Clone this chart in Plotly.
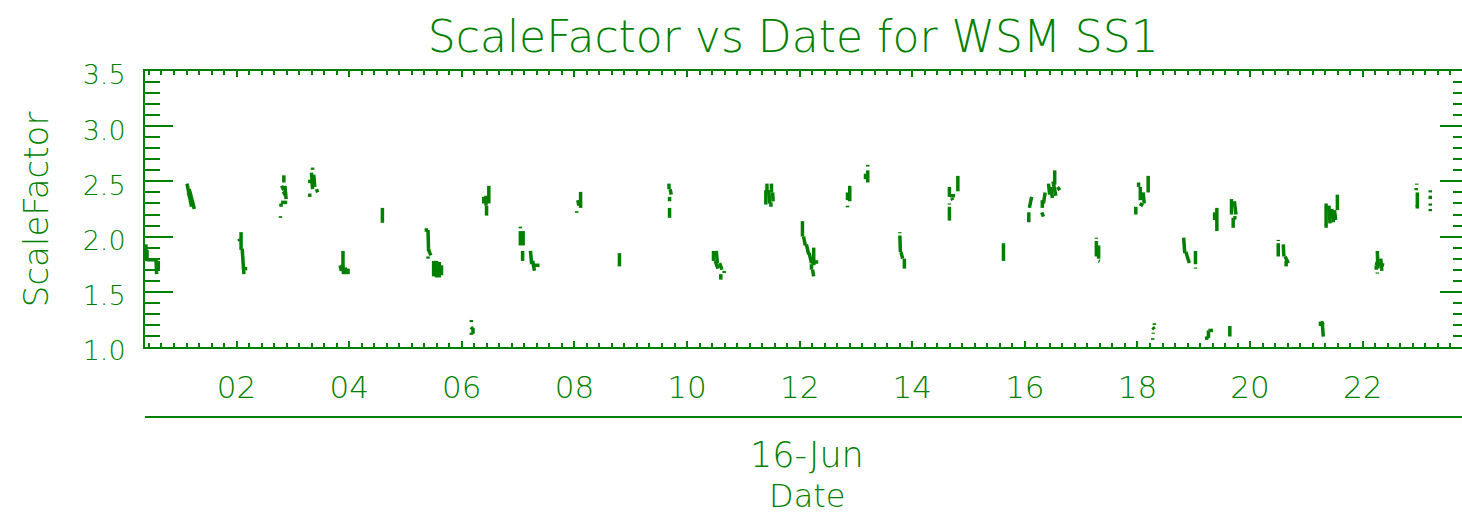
import pandas as pd
import plotly.graph_objects as go

DAY = pd.Timestamp("2009-06-16")
GREEN = "#007f00"
FONT = "DejaVu Sans"

# Each streak of samples: start (hour, value) -> end (hour, value), hours of 16-Jun
h_start = [0.39, 0.41, 0.40, 0.57, 0.61,
           1.12, 1.16, 1.14,
           2.08, 2.04, 2.10, 2.13,
           2.84, 2.80, 2.86, 2.83, 2.79, 2.79, 2.78,
           3.35, 3.33, 3.37, 3.27, 3.30, 3.42,
           4.59,
           3.89, 3.84, 3.88, 3.93, 3.98,
           5.34, 5.40, 5.41, 5.40,
           5.50, 5.55, 5.60, 5.64,
           6.17, 6.16, 6.20, 6.17,
           6.48, 6.39, 6.43, 6.44,
           7.04, 7.04, 7.09, 7.08, 7.22, 7.26, 7.28,
           8.11, 8.06, 8.04,
           8.80,
           9.68, 9.70, 9.69, 9.69,
           10.47, 10.52, 10.50, 10.58, 10.66, 10.60,
           11.42, 11.50, 11.40, 11.45, 11.52, 11.49,
           12.05, 12.07, 12.12, 12.17, 12.25, 12.20, 12.21, 12.23,
           12.89, 12.85, 12.85,
           13.21, 13.21, 13.17,
           13.78, 13.78, 13.80, 13.86,
           14.81, 14.66, 14.67, 14.70, 14.66, 14.66,
           15.62,
           16.12, 16.07, 16.53, 16.50, 16.42, 16.46, 16.58, 16.36, 16.31, 16.30,
           17.27, 17.27, 17.31, 17.31,
           18.19, 18.02, 18.05, 18.10, 18.04, 17.97,
           18.82, 18.86, 19.03, 19.03,
           19.41, 19.37,
           19.67, 19.72, 19.70, 19.70,
           20.50, 20.50, 20.59, 20.62, 20.64,
           21.55, 21.35, 21.40, 21.45, 21.50,
           22.26, 22.22, 22.32, 22.24, 22.26,
           22.96, 22.95, 22.97, 22.94, 23.20, 23.20, 23.20, 23.20,
           18.30, 18.27, 18.28, 18.27,
           19.26, 19.26, 19.20,
           19.64,
           21.26, 21.28, 21.25]
v_start = [1.93, 1.88, 1.79, 1.80, 1.78,
           2.48, 2.43, 2.40,
           2.04, 1.98, 1.89, 1.71,
           2.555, 2.46, 2.46, 2.41, 2.31, 2.30, 2.185,
           2.625, 2.58, 2.56, 2.50, 2.39, 2.43,
           2.26,
           1.87, 1.74, 1.75, 1.72, 1.71,
           2.06, 2.06, 1.88, 1.82,
           1.78, 1.78, 1.77, 1.74,
           1.245, 1.18, 1.17, 1.13,
           2.46, 2.36, 2.37, 2.28,
           2.09, 2.05, 2.05, 1.87, 1.87, 1.78, 1.74,
           2.405, 2.33, 2.23,
           1.85,
           2.48, 2.43, 2.36, 2.26,
           1.87, 1.87, 1.78, 1.76, 1.69, 1.66,
           2.48, 2.48, 2.42, 2.42, 2.40, 2.31,
           2.14, 2.00, 1.93, 1.85, 1.90, 1.77, 1.75, 1.70,
           2.46, 2.40, 2.28,
           2.65, 2.60, 2.57,
           2.04, 2.01, 1.86, 1.80,
           2.55, 2.45, 2.37, 2.35, 2.30, 2.27,
           1.94,
           2.36, 2.22, 2.60, 2.50, 2.48, 2.45, 2.45, 2.40, 2.33, 2.22,
           1.99, 1.96, 1.92, 1.78,
           2.55, 2.49, 2.45, 2.40, 2.30, 2.27,
           1.99, 1.86, 1.87, 1.72,
           2.26, 2.22,
           2.34, 2.32, 2.17, 2.17,
           1.97, 1.94, 1.93, 1.82, 1.78,
           2.38, 2.30, 2.28, 2.25, 2.24,
           1.87, 1.76, 1.80, 1.74, 1.675,
           2.48, 2.44, 2.40, 2.27, 2.42, 2.37, 2.30, 2.25,
           1.215, 1.18, 1.13, 1.08,
           1.15, 1.15, 1.08,
           1.19,
           1.23, 1.23, 1.23]
h_end = [0.39, 0.41, 0.56, 0.58, 0.61,
         1.20, 1.25, 1.22,
         2.08, 2.06, 2.13, 2.19,
         2.84, 2.84, 2.88, 2.87, 2.90, 2.79, 2.78,
         3.35, 3.35, 3.39, 3.41, 3.30, 3.44,
         4.59,
         3.89, 3.86, 3.90, 3.95, 3.98,
         5.40, 5.41, 5.45, 5.40,
         5.50, 5.55, 5.60, 5.64,
         6.17, 6.20, 6.20, 6.17,
         6.48, 6.39, 6.43, 6.44,
         7.04, 7.04, 7.09, 7.08, 7.24, 7.29, 7.38,
         8.11, 8.08, 8.04,
         8.80,
         9.68, 9.72, 9.69, 9.69,
         10.47, 10.54, 10.55, 10.62, 10.66, 10.60,
         11.42, 11.50, 11.40, 11.47, 11.53, 11.49,
         12.05, 12.10, 12.16, 12.21, 12.25, 12.33, 12.21, 12.25,
         12.89, 12.85, 12.85,
         13.21, 13.21, 13.17,
         13.78, 13.79, 13.83, 13.86,
         14.81, 14.66, 14.76, 14.72, 14.66, 14.66,
         15.62,
         16.08, 16.07, 16.53, 16.55, 16.44, 16.49, 16.62, 16.33, 16.31, 16.33,
         17.27, 17.27, 17.31, 17.33,
         18.19, 18.02, 18.05, 18.12, 18.10, 17.97,
         18.84, 18.92, 19.03, 19.03,
         19.41, 19.37,
         19.67, 19.75, 19.76, 19.70,
         20.50, 20.50, 20.60, 20.68, 20.64,
         21.55, 21.35, 21.42, 21.48, 21.52,
         22.27, 22.38, 22.34, 22.24, 22.26,
         22.96, 22.95, 22.97, 23.00, 23.20, 23.20, 23.20, 23.20,
         18.30, 18.30, 18.28, 18.27,
         19.34, 19.26, 19.26,
         19.64,
         21.30, 21.30, 21.25]
v_end = [1.78, 1.80, 1.79, 1.66, 1.70,
         2.27, 2.25, 2.30,
         1.88, 1.96, 1.66, 1.71,
         2.49, 2.42, 2.34, 2.37, 2.31, 2.27, 2.17,
         2.605, 2.43, 2.45, 2.50, 2.36, 2.40,
         2.125,
         1.72, 1.69, 1.66, 1.66, 1.66,
         2.06, 1.87, 1.83, 1.80,
         1.64, 1.63, 1.63, 1.65,
         1.225, 1.16, 1.12, 1.11,
         2.30, 2.30, 2.28, 2.19,
         2.075, 1.92, 1.92, 1.78, 1.75, 1.69, 1.74,
         2.26, 2.28, 2.215,
         1.73,
         2.43, 2.38, 2.32, 2.17,
         1.78, 1.76, 1.71, 1.70, 1.67, 1.61,
         2.40, 2.40, 2.29, 2.30, 2.32, 2.27,
         2.00, 1.92, 1.84, 1.76, 1.74, 1.77, 1.70, 1.64,
         2.32, 2.33, 2.265,
         2.635, 2.49, 2.52,
         2.03, 1.86, 1.80, 1.71,
         2.41, 2.36, 2.37, 2.33, 2.29, 2.145,
         1.78,
         2.26, 2.13, 2.47, 2.37, 2.38, 2.35, 2.42, 2.30, 2.26, 2.18,
         1.98, 1.82, 1.80, 1.775,
         2.40, 2.45, 2.33, 2.30, 2.28, 2.20,
         1.85, 1.76, 1.75, 1.71,
         2.05, 2.15,
         2.20, 2.20, 2.17, 2.08,
         1.96, 1.82, 1.82, 1.76, 1.73,
         2.24, 2.08, 2.12, 2.13, 2.15,
         1.71, 1.74, 1.69, 1.70, 1.665,
         2.47, 2.42, 2.27, 2.27, 2.40, 2.34, 2.28, 2.23,
         1.20, 1.16, 1.12, 1.065,
         1.15, 1.08, 1.08,
         1.095,
         1.20, 1.095, 1.19]

x_range_hours = [0.374, 23.87]
y_range = [1.0, 3.5]
x_tick_hours = [2, 4, 6, 8, 10, 12, 14, 16, 18, 20, 22]
x_tick_labels = ["02", "04", "06", "08", "10", "12", "14", "16", "18", "20", "22"]
y_tick_vals = [1.0, 1.5, 2.0, 2.5, 3.0, 3.5]
y_tick_labels = ["1.0", "1.5", "2.0", "2.5", "3.0", "3.5"]


def to_time(h):
    return DAY + pd.Timedelta(hours=h)


xs, ys = [], []
for h0, v0, h1, v1 in zip(h_start, v_start, h_end, v_end):
    xs += [to_time(h0), to_time(h1), None]
    ys += [v0, v1, None]

fig = go.Figure()
fig.add_trace(go.Scatter(x=xs, y=ys, mode="lines",
                         line=dict(color=GREEN, width=3.5),
                         connectgaps=False, hoverinfo="skip",
                         showlegend=False))

fig.update_layout(
    width=1480, height=515,
    margin=dict(l=145, r=10, t=71, b=168),
    paper_bgcolor="white", plot_bgcolor="white",
    font=dict(family=FONT, color=GREEN),
    title=dict(text="ScaleFactor vs Date for WSM SS1",
               font=dict(family=FONT, size=44, color=GREEN, weight=200),
               xref="paper", x=0.49, xanchor="center",
               yref="container", y=1 - 37 / 515, yanchor="middle"),
)

fig.update_xaxes(
    type="date",
    range=[to_time(x_range_hours[0]), to_time(x_range_hours[1])],
    tickmode="array",
    tickvals=[to_time(h) for h in x_tick_hours],
    ticktext=x_tick_labels,
    ticks="inside", ticklen=6, tickwidth=2, tickcolor=GREEN,
    showline=True, linecolor=GREEN, linewidth=2, mirror="ticks",
    showgrid=False, zeroline=False,
    tickfont=dict(family=FONT, size=31, color=GREEN, weight=200),
    ticklabelstandoff=12,
    minor=dict(ticks="inside", ticklen=4, tickwidth=2, tickcolor=GREEN,
               dtick=2 * 3600 * 1000 / 9, tick0=to_time(x_tick_hours[0]),
               showgrid=False),
)
fig.update_yaxes(
    range=y_range,
    tickmode="array", tickvals=y_tick_vals, ticktext=y_tick_labels,
    ticks="inside", ticklen=28, tickwidth=2, tickcolor=GREEN,
    showline=True, linecolor=GREEN, linewidth=2, mirror="ticks",
    showgrid=False, zeroline=False,
    tickfont=dict(family=FONT, size=27, color=GREEN, weight=200),
    ticklabelstandoff=12, ticklabelshift=4,
    minor=dict(ticks="inside", ticklen=15, tickwidth=2, tickcolor=GREEN,
               dtick=0.1, tick0=1.0, showgrid=False),
)

# second (date-level) axis line below the hour labels
fig.add_shape(type="line", xref="paper", yref="paper",
              x0=0, x1=1, y0=-70 / 276, y1=-70 / 276,
              line=dict(color=GREEN, width=2))

fig.add_annotation(text="16-Jun", xref="paper", yref="paper",
                   x=0.5, y=-(455 - 347) / 276, showarrow=False,
                   xanchor="center", yanchor="middle",
                   font=dict(family=FONT, size=35, color=GREEN, weight=200))
fig.add_annotation(text="Date", xref="paper", yref="paper",
                   x=0.5, y=-(496 - 347) / 276, showarrow=False,
                   xanchor="center", yanchor="middle",
                   font=dict(family=FONT, size=32, color=GREEN, weight=200))
fig.add_annotation(text="ScaleFactor", xref="paper", yref="paper",
                   x=(36 - 145) / 1325, y=0.5, showarrow=False,
                   textangle=-90, xanchor="center", yanchor="middle",
                   font=dict(family=FONT, size=34, color=GREEN, weight=200))

fig.write_html(
    "out.html",
    config={"displayModeBar": False},
    post_script=("document.body.style.margin='0';"
                 "document.body.style.overflow='hidden';"
                 "document.documentElement.style.overflow='hidden';"),
)
